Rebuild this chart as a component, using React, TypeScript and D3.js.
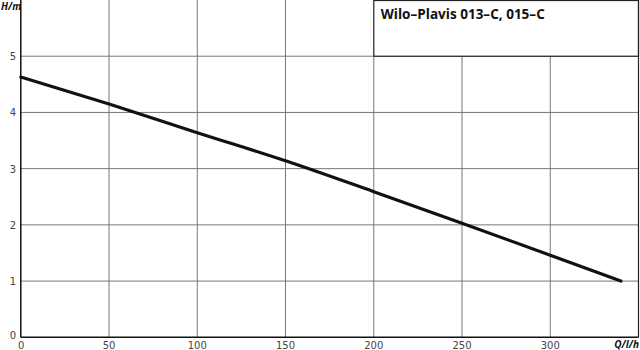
import React from "react";
import * as d3 from "d3";

const title = "Wilo–Plavis 013–C, 015–C";
const flowQ = [0, 50, 100, 150, 200, 250, 300, 340];
const headH = [4.63, 4.15, 3.64, 3.14, 2.59, 2.03, 1.46, 1.0];
const xTicks = [0, 50, 100, 150, 200, 250, 300];
const yTicks = [0, 1, 2, 3, 4, 5];
const xGrid = [50, 100, 150, 200, 250, 300];
const yGrid = [1, 2, 3, 4, 5];

export default function App() {
  const W = 640, H = 350;
  const x = d3.scaleLinear().domain([0, 350]).range([20.8, 638.5]);
  const y = d3.scaleLinear().domain([0, 6]).range([337.3, 0]);
  const pts = flowQ.map((q, i) => [q, headH[i]] as [number, number]);
  const line = d3.line<[number, number]>().x(d => x(d[0])).y(d => y(d[1])).curve(d3.curveMonotoneX);
  const font = "'DejaVu Sans', sans-serif";
  return (
    <svg width={W} height={H} style={{ position: "absolute", left: 0, top: 0, background: "#fff" }}>
      {xGrid.map(v => (
        <line key={"gx" + v} x1={x(v)} x2={x(v)} y1={y(v >= 200 ? 5 : 6)} y2={y(0)} stroke="#777" strokeWidth={1} />
      ))}
      {yGrid.map(v => (
        <line key={"gy" + v} x1={x(0)} x2={x(350)} y1={y(v)} y2={y(v)} stroke="#777" strokeWidth={1} />
      ))}
      <rect x={x(200)} y={0.5} width={x(350) - x(200)} height={y(5) - 0.5} fill="#fff" stroke="#222" strokeWidth={1.2} />
      <text x={x(200) + 7} y={18.5} fontFamily="'Open Sans', sans-serif" fontWeight="bold" fontSize={14.5} textLength={164} lengthAdjust="spacingAndGlyphs" fill="#111">{title}</text>
      <line x1={x(0)} x2={x(0)} y1={0} y2={y(0)} stroke="#111" strokeWidth={1.5} />
      <line x1={x(0)} x2={x(350)} y1={y(0)} y2={y(0)} stroke="#111" strokeWidth={1.5} />
      <line x1={x(350)} x2={x(350)} y1={0} y2={y(0)} stroke="#222" strokeWidth={1.2} />
      {yTicks.map(v => (
        <text key={"yt" + v} x={16} y={y(v) + (v === 0 ? 2 : 4)} textAnchor="end" fontFamily={font} fontSize={10} fill="#444">{v}</text>
      ))}
      {xTicks.map(v => (
        <text key={"xt" + v} x={x(v) + (v === 0 ? 0.5 : 0)} y={349} textAnchor="middle" fontFamily={font} fontSize={10} fill="#444">{v}</text>
      ))}
      <text x={1} y={10} fontFamily="'Open Sans', sans-serif" fontWeight="bold" fontStyle="italic" fontSize={10} fill="#111">H/m</text>
      <text x={639} y={348} textAnchor="end" fontFamily="'Open Sans', sans-serif" fontWeight="bold" fontStyle="italic" fontSize={10} fill="#111">Q/l/h</text>
      <path d={line(pts) || ""} fill="none" stroke="#111" strokeWidth={3.2} strokeLinecap="round" />
    </svg>
  );
}
